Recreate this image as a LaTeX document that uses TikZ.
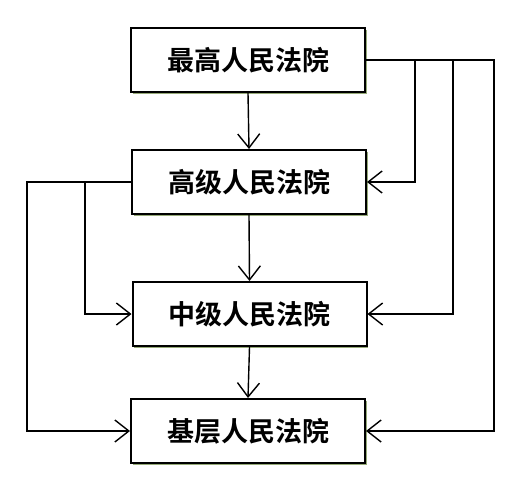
\documentclass[tikz,border=0pt]{standalone}
\usepackage{fontspec}
\newfontfamily\cjk{Noto Sans CJK SC}[BoldFont={Noto Sans CJK SC Bold}]
\usetikzlibrary{arrows.meta,shadows}
\definecolor{shadowgreen}{RGB}{150,170,120}
\tikzset{
  court/.style={draw=black, line width=2pt, fill=white, minimum width=234pt, minimum height=64pt,
    inner sep=0pt, font=\cjk\bfseries\fontsize{27pt}{31pt}\selectfont,
    drop shadow={shadow xshift=1.8pt, shadow yshift=-1.8pt, fill=shadowgreen, opacity=1}},
  arr/.style={line width=1.4pt, -{Straight Barb[length=14pt,width=22pt,line width=1.4pt]}},
  ln/.style={line width=1.4pt}
}
\begin{document}
\begin{tikzpicture}[x=1pt,y=-1pt]
\useasboundingbox (0,0) rectangle (521,500);
\node[court] (b1) at (248,60) {最高人民法院};
\node[court] (b2) at (249,182) {高级人民法院};
\node[court] (b3) at (249.5,314) {中级人民法院};
\node[court] (b4) at (248,431) {基层人民法院};
\coordinate (r1) at (415,60);
\coordinate (r2) at (453,60);
\coordinate (r3) at (494,60);
\coordinate (l1) at (85,182);
\coordinate (l2) at (27,182);
\draw[arr] (b1.south) -- (b2.north);
\draw[arr] (b2.south) -- (b3.north);
\draw[arr] (b3.south) -- (b4.north);
\draw[arr] (b1.east) -- (r1) |- (b2.east);
\draw[arr] (b1.east) -- (r2) |- (b3.east);
\draw[arr] (b1.east) -- (r3) |- (b4.east);
\draw[arr] (b2.west) -- (l1) |- (b3.west);
\draw[arr] (b2.west) -- (l2) |- (b4.west);
\end{tikzpicture}
\end{document}
